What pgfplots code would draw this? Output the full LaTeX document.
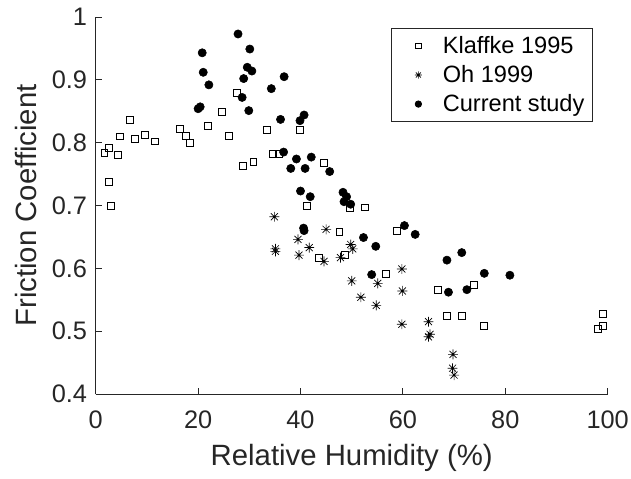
\documentclass[border=0pt]{standalone}
\usepackage{fontspec}
\setmainfont{Liberation Sans}
\usepackage{pgfplots}
\pgfplotsset{compat=1.18}
\definecolor{axgray}{HTML}{262626}
\pgfdeclareplotmark{mstar}{%
  \pgfpathmoveto{\pgfpoint{-\pgfplotmarksize}{0pt}}\pgfpathlineto{\pgfpoint{\pgfplotmarksize}{0pt}}%
  \pgfpathmoveto{\pgfpoint{0pt}{-\pgfplotmarksize}}\pgfpathlineto{\pgfpoint{0pt}{\pgfplotmarksize}}%
  \pgfpathmoveto{\pgfpoint{-0.707\pgfplotmarksize}{-0.707\pgfplotmarksize}}\pgfpathlineto{\pgfpoint{0.707\pgfplotmarksize}{0.707\pgfplotmarksize}}%
  \pgfpathmoveto{\pgfpoint{-0.707\pgfplotmarksize}{0.707\pgfplotmarksize}}\pgfpathlineto{\pgfpoint{0.707\pgfplotmarksize}{-0.707\pgfplotmarksize}}%
  \pgfusepathqstroke}
\pgfplotsset{mylegend/.style={legend image code/.code={%
  \path (0pt,0pt) (32pt,0pt);
  \draw[#1] plot coordinates {(16pt,0pt)};}}}
\begin{document}
\begin{tikzpicture}
\useasboundingbox (-71.8pt,-63.75pt) rectangle (401.5pt,295.5pt);
\begin{axis}[
  scale only axis,
  width=384pt, height=282.75pt,
  xmin=0, xmax=100, ymin=0.4, ymax=1,
  axis x line*=bottom, axis y line*=left,
  axis line style={axgray, line width=0.6pt},
  xtick={0,20,...,100},
  ytick={0.4,0.5,0.6,0.7,0.8,0.9,1},
  tick align=inside,
  major tick length=4.5pt,
  tick style={axgray, line width=0.6pt},
  /pgf/number format/assume math mode=true,
  ticklabel style={font=\fontsize{19}{22}\selectfont, text=axgray},
  xticklabel style={yshift=-9pt},
  yticklabel style={xshift=-3pt},
  xlabel={Relative Humidity (\%)},
  ylabel={Friction Coefficient},
  label style={font=\fontsize{22}{26}\selectfont, text=axgray},
  xlabel style={yshift=-5pt},
  ylabel style={yshift=4.5pt},
  clip=false,
  legend style={at={(0.971,0.971)}, anchor=north east, draw=axgray, line width=0.6pt,
    font=\fontsize{17.7}{21}\selectfont, text=black, inner xsep=4pt, inner ysep=4pt, row sep=3.5pt},
  legend cell align=left,
]
\addplot[only marks, mark=square, mark size=2.6pt, mark options={black, line width=0.6pt},
  mylegend, legend image post style={mark size=2.2pt}] coordinates {
(1.7,0.783) (2.5,0.791) (2.5,0.738) (2.9,0.700) (4.4,0.780) (4.7,0.810)
(6.6,0.836) (7.7,0.806) (9.6,0.812) (11.6,0.802) (16.5,0.822) (17.6,0.811)
(18.4,0.799) (22.0,0.826) (24.7,0.849) (26.1,0.811) (27.5,0.879) (28.8,0.763)
(30.8,0.770) (33.5,0.820) (34.6,0.782) (35.7,0.782) (39.8,0.820) (41.3,0.700)
(44.5,0.768) (43.6,0.617) (47.6,0.658) (48.6,0.621) (49.7,0.696) (52.5,0.697)
(56.7,0.591) (58.8,0.660) (66.9,0.566) (68.6,0.524) (71.6,0.524) (73.8,0.574)
(75.8,0.509) (98.0,0.504) (99.0,0.508) (99.0,0.527)
};
\addlegendentry{Klaffke 1995}
\addplot[only marks, mark=mstar, mark size=3.7pt, mark options={black, line width=0.5pt},
  mylegend, legend image post style={mark size=2.7pt}] coordinates {
(34.9,0.682) (35.1,0.631) (35.1,0.627) (39.5,0.646) (39.7,0.621) (41.7,0.633)
(44.6,0.611) (45.0,0.662) (47.8,0.617) (49.8,0.638) (50.2,0.631) (50.0,0.580)
(51.8,0.554) (54.8,0.541) (55.1,0.576) (59.8,0.599) (59.9,0.564) (59.8,0.511)
(65.0,0.515) (65.0,0.491) (65.3,0.495) (69.8,0.463) (69.7,0.441) (70.0,0.430)
};
\addlegendentry{Oh 1999}
\addplot[only marks, mark=*, mark size=3.1pt, mark options={black, fill=black},
  mylegend, legend image post style={mark size=2.4pt}] coordinates {
(20.0,0.854) (20.4,0.857) (20.8,0.943) (21.0,0.912) (22.1,0.892) (27.8,0.973)
(28.6,0.872) (28.9,0.902) (29.6,0.920) (29.9,0.851) (30.1,0.949) (30.5,0.914)
(34.3,0.886) (36.1,0.837) (36.8,0.905) (36.7,0.785) (38.1,0.759) (39.2,0.774)
(39.9,0.835) (40.7,0.844) (40.9,0.759) (42.1,0.777) (45.7,0.754) (40.0,0.723)
(41.9,0.714) (48.3,0.721) (49.0,0.714) (48.5,0.706) (49.8,0.702) (40.6,0.664)
(40.7,0.660) (52.3,0.649) (54.7,0.635) (53.9,0.590) (60.3,0.668) (62.4,0.654)
(68.6,0.613) (71.5,0.625) (68.9,0.562) (72.5,0.566) (75.9,0.592) (80.9,0.589)
};
\addlegendentry{Current study}
\end{axis}
\end{tikzpicture}
\end{document}
